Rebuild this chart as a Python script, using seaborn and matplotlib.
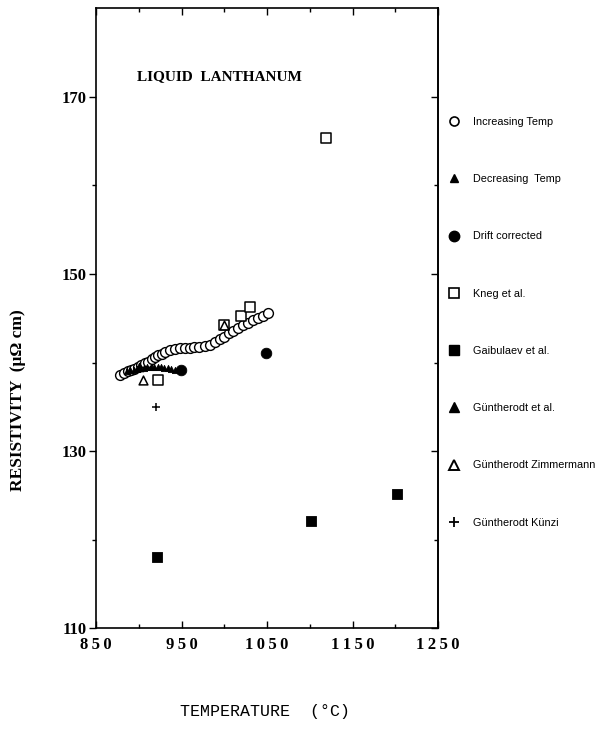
import matplotlib
matplotlib.use("Agg")
import matplotlib.pyplot as plt
from matplotlib.ticker import FixedLocator
from matplotlib.lines import Line2D
import seaborn as sns
import pandas as pd

# Resistivity of liquid lanthanum vs temperature (°C, µΩ cm)
inc_temp = [878, 883, 887, 891, 895, 899, 903, 907, 911, 915, 919, 923, 927, 931,
            936, 942, 948, 954, 960, 965, 971, 977, 983, 989, 995, 1000, 1006,
            1010, 1016, 1022, 1028, 1034, 1039, 1045, 1051]
inc_res = [138.6, 138.8, 139.0, 139.1, 139.3, 139.5, 139.7, 139.9, 140.1, 140.4,
           140.6, 140.8, 141.0, 141.2, 141.4, 141.5, 141.6, 141.6, 141.6, 141.7,
           141.7, 141.9, 142.0, 142.3, 142.6, 142.9, 143.3, 143.6, 143.9, 144.2,
           144.5, 144.8, 145.0, 145.3, 145.6]

dec_temp = [886, 890, 894, 898, 902, 906, 910, 914, 918, 922, 926, 930, 934, 938, 942]
dec_res = [139.0, 139.1, 139.2, 139.3, 139.35, 139.4, 139.45, 139.5, 139.5, 139.5,
           139.45, 139.4, 139.35, 139.3, 139.2]

drift_temp = [949, 1049]
drift_res = [139.1, 141.1]

krieg_temp = [923, 1000, 1020, 1030, 1119]
krieg_res = [138.0, 144.2, 145.3, 146.3, 165.3]

gaibulaev_temp = [921, 1102, 1202]
gaibulaev_res = [118.0, 122.1, 125.1]

gunth_temp = [900]
gunth_res = [139.5]

gz_temp = [905, 1000]
gz_res = [138.0, 144.2]

gk_temp = [920]
gk_res = [135.0]

legend_labels = ["Increasing Temp", "Decreasing  Temp", "Drift corrected",
                 "Kneg et al.", "Gaibulaev et al.", "Güntherodt et al.",
                 "Güntherodt Zimmermann", "Güntherodt Künzi"]

x_ticks = [850, 950, 1050, 1150, 1250]
x_tick_labels = ["8\u20095\u20090", "9\u20095\u20090", "1\u20090\u20095\u20090",
                 "1\u20091\u20095\u20090", "1\u20092\u20095\u20090"]
x_minor = [900, 1000, 1100, 1200]
y_ticks = [110, 130, 150, 170]
y_minor = [120, 140, 160]

sns.set_style("ticks")
plt.rcParams["font.family"] = ["Liberation Serif", "DejaVu Serif"]
for key in ("text.color", "axes.labelcolor", "xtick.color", "ytick.color",
            "axes.edgecolor"):
    plt.rcParams[key] = "black"

fig = plt.figure(figsize=(6, 7.47), dpi=100)
ax = fig.add_axes([0.16, 0.159, 0.57, 0.83])

series = [
    (inc_temp, inc_res, "o", 50, "white", 1.0),
    (dec_temp, dec_res, "^", 20, "black", 0.6),
    (drift_temp, drift_res, "o", 58, "black", 0.6),
    (krieg_temp, krieg_res, "s", 50, "white", 1.1),
    (gaibulaev_temp, gaibulaev_res, "s", 55, "black", 0.6),
    (gunth_temp, gunth_res, "^", 40, "black", 0.6),
    (gz_temp, gz_res, "^", 40, "white", 1.1),
    (gk_temp, gk_res, "+", 40, "black", 1.1),
]

for (t, r, m, s, fc, lw), lab in zip(series, legend_labels):
    df = pd.DataFrame({"T": t, "R": r})
    if m == "+":
        sns.scatterplot(data=df, x="T", y="R", marker=m, s=s, color="black",
                        linewidth=lw, ax=ax, zorder=3)
    else:
        sns.scatterplot(data=df, x="T", y="R", marker=m, s=s, facecolor=fc,
                        edgecolor="black", linewidth=lw, ax=ax, zorder=3)

ax.set_xlim(850, 1250)
ax.set_ylim(110, 180)
ax.set_xticks(x_ticks)
ax.set_xticklabels(x_tick_labels)
ax.xaxis.set_minor_locator(FixedLocator(x_minor))
ax.set_yticks(y_ticks)
ax.yaxis.set_minor_locator(FixedLocator(y_minor))

for sp in ax.spines.values():
    sp.set_linewidth(1.2)
    sp.set_visible(True)

ax.tick_params(axis="both", which="both", width=1.0, labelsize=12)
ax.tick_params(axis="x", which="both", direction="in", top=True, pad=6)
ax.tick_params(axis="y", which="both", direction="out", right=False, pad=2)
ax.tick_params(which="major", length=5)
ax.tick_params(which="minor", length=3)
for lab in ax.get_xticklabels() + ax.get_yticklabels():
    lab.set_fontweight("bold")
    lab.set_family(["Liberation Serif", "DejaVu Serif"])
ax.set_xlabel("")
ax.set_ylabel("")

# inward ticks on the right spine
ax_r = ax.secondary_yaxis("right")
ax_r.set_yticks(y_ticks)
ax_r.yaxis.set_minor_locator(FixedLocator(y_minor))
ax_r.tick_params(which="both", direction="in", labelright=False, width=1.0)
ax_r.tick_params(which="major", length=5)
ax_r.tick_params(which="minor", length=3)
ax_r.spines["right"].set_linewidth(1.2)

ax.text(0.12, 0.889, "LIQUID  LANTHANUM", transform=ax.transAxes,
        fontsize=11, fontweight="bold", va="center", ha="left")

fig.text(0.442, 0.047, "TEMPERATURE  (°C)", family="Liberation Mono",
         fontsize=12, ha="center", va="center")
fig.text(0.03, 0.465, "RESISTIVITY  (μΩ cm)", rotation=90, fontsize=12.5,
         fontweight="bold", ha="center", va="center")

# legend entries
handles = [
    Line2D([], [], ls="", marker="o", ms=6.5, mfc="white", mec="black", mew=1.2),
    Line2D([], [], ls="", marker="^", ms=5.5, mfc="black", mec="black"),
    Line2D([], [], ls="", marker="o", ms=7.5, mfc="black", mec="black"),
    Line2D([], [], ls="", marker="s", ms=6.5, mfc="white", mec="black", mew=1.2),
    Line2D([], [], ls="", marker="s", ms=7.5, mfc="black", mec="black"),
    Line2D([], [], ls="", marker="^", ms=7.5, mfc="black", mec="black"),
    Line2D([], [], ls="", marker="^", ms=7.5, mfc="white", mec="black", mew=1.4),
    Line2D([], [], ls="", marker="+", ms=6.5, mec="black", mew=1.3),
]
fig.legend(handles, legend_labels, loc="upper left",
           bbox_to_anchor=(449 / 600, 1 - 117 / 747), frameon=False,
           prop={"family": "Liberation Sans", "size": 7.8},
           handlelength=1.0, handletextpad=1.25, labelspacing=4.36,
           borderpad=0, borderaxespad=0)

fig.savefig("out.png", dpi=100)
